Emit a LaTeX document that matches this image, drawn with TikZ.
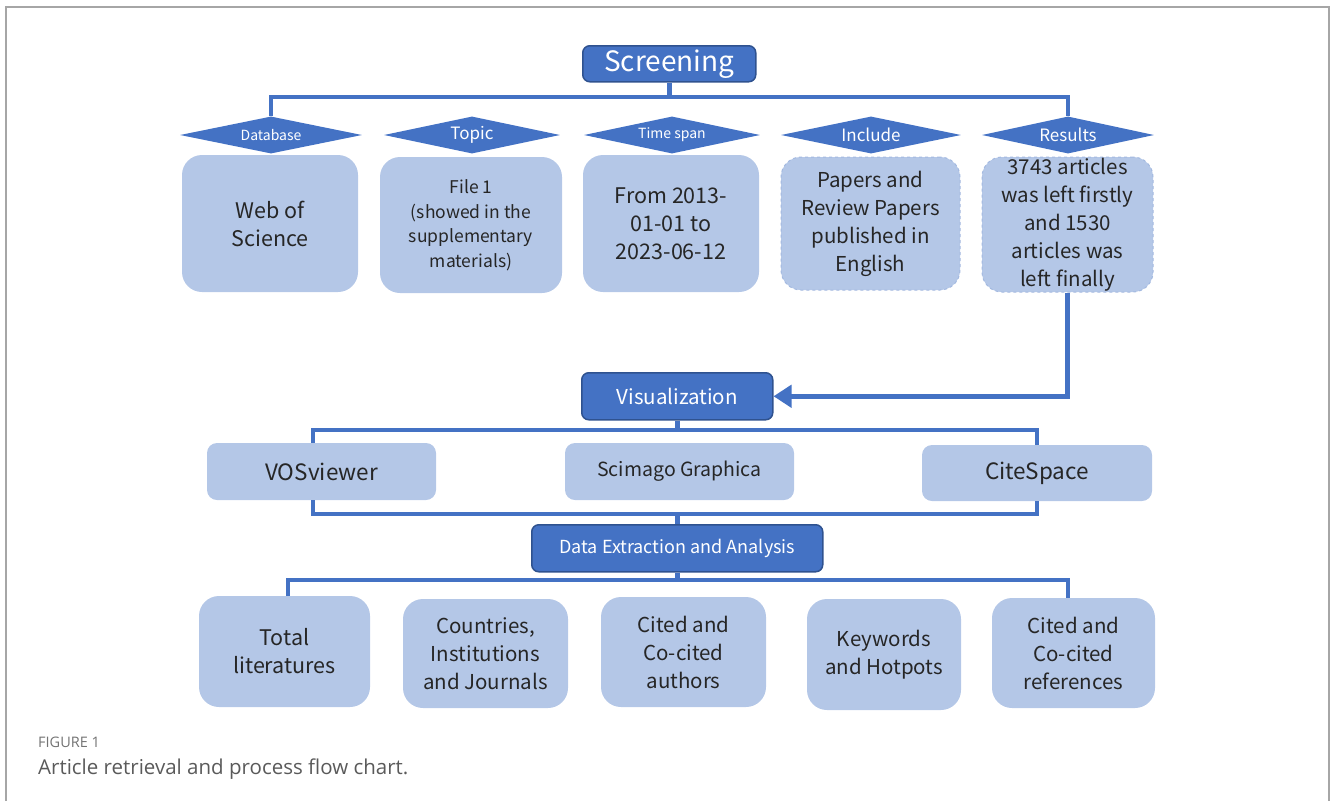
\documentclass[tikz,border=0pt]{standalone}
\usepackage{fontspec}
\setmainfont{Noto Sans CJK SC}
\newfontfamily\capfont{Open Sans}
\usetikzlibrary{shapes.geometric,arrows.meta}
\definecolor{mainblue}{HTML}{4472C4}
\definecolor{darkborder}{HTML}{2F528F}
\definecolor{lightfill}{HTML}{B4C7E7}
\definecolor{lightedge}{HTML}{A3B9E0}
\definecolor{framegray}{HTML}{A6A6A6}
\definecolor{capgray}{HTML}{5A5A5A}
\newcommand{\fs}[2]{\fontsize{#1}{#2}\selectfont}
\tikzset{
  darkbox/.style={draw=darkborder, line width=1.5pt, fill=mainblue, text=white, rounded corners=7pt, inner sep=0pt, anchor=north west},
  lightbox/.style={fill=lightfill, text=black!85, rounded corners=20pt, inner sep=0pt, align=center},
  smallbox/.style={fill=lightfill, text=black!85, rounded corners=10pt, inner sep=0pt, align=center},
  dashbox/.style={lightbox, draw=lightedge, dashed, line width=1pt},
  diam/.style={diamond, aspect=5, fill=mainblue, text=white, inner sep=0pt, minimum width=#1, minimum height=37pt},
  conn/.style={draw=mainblue, line width=4.5pt, line join=miter},
}
\begin{document}
\begin{tikzpicture}[x=1pt,y=-1pt]
\useasboundingbox (0,0) rectangle (1330,801);
% frame
\draw[framegray, line width=1.6pt] (6,801) -- (6,7) -- (1329,7) -- (1329,801);

% Screening
\node[darkbox, minimum width=173pt, minimum height=36pt, font=\fs{28}{32}] (scr) at (582,45) {Screening};

% diamonds
\node[diam=182pt, font=\fs{14}{16}] (db) at (271,135) {Database};
\node[diam=176pt, font=\fs{17}{20}] (tp) at (472,135) {Topic};
\node[diam=176pt, font=\fs{14}{16}] (ts) at (672,135) {Time span};
\node[diam=180pt, font=\fs{17}{20}] (inc) at (871,135) {Include};
\node[diam=172pt, font=\fs{17}{20}] (res) at (1068,135) {Results};

% top boxes
\node[lightbox, minimum width=176pt, minimum height=137pt, font=\fs{21.5}{28}] (wos) at (270,223.5) {Web of\\Science};
\node[lightbox, minimum width=182pt, minimum height=136pt, font=\fs{17.5}{24.5}] (file) at (471,225) {File 1\\(showed in the\\supplementary\\materials)};
\node[lightbox, minimum width=176pt, minimum height=137pt, font=\fs{21.5}{28}] (from) at (671,223.5) {From 2013-\\01-01 to\\2023-06-12};
\node[dashbox, minimum width=179pt, minimum height=133pt, font=\fs{20.5}{28}] (pap) at (870.5,223.5) {Papers and\\Review Papers\\published in\\English};
\node[dashbox, minimum width=171pt, minimum height=135pt, font=\fs{20.5}{28}] (art) at (1067.5,224.5) {3743 articles\\was left firstly\\and 1530\\articles was\\left finally};

% Visualization
\node[darkbox, minimum width=191pt, minimum height=47pt, font=\fs{20.5}{24}] (vis) at (581,372) {Visualization};

\node[smallbox, minimum width=229pt, minimum height=57pt, font=\fs{22.5}{26}] (vos) at (321.5,471.5) {VOSviewer};
\node[smallbox, minimum width=229pt, minimum height=57pt, font=\fs{19.5}{24}] (sci) at (679.5,471.5) {Scimago Graphica};
\node[smallbox, minimum width=230pt, minimum height=56pt, font=\fs{22.5}{26}] (cite) at (1037,473) {CiteSpace};

% Data extraction
\node[darkbox, minimum width=291pt, minimum height=47pt, font=\fs{18}{22}] (dea) at (531,524) {Data Extraction and Analysis};

% bottom boxes
\node[lightbox, minimum width=171pt, minimum height=111pt, font=\fs{21.5}{28}] (tot) at (284.5,651.5) {Total\\literatures};
\node[lightbox, minimum width=165pt, minimum height=109pt, font=\fs{20.5}{28}] (cou) at (485.5,653.5) {Countries,\\Institutions\\and Journals};
\node[lightbox, minimum width=165pt, minimum height=110pt, font=\fs{20.5}{28}] (aut) at (683.5,652) {Cited and\\Co-cited\\authors};
\node[lightbox, minimum width=154pt, minimum height=111pt, font=\fs{20.5}{28}] (key) at (884,654.5) {Keywords\\and Hotpots};
\node[lightbox, minimum width=163pt, minimum height=110pt, font=\fs{20.5}{28}] (ref) at (1073.5,653) {Cited and\\Co-cited\\references};

% connectors
\coordinate (b1) at (0,97);
\coordinate (b2) at (0,430);
\coordinate (b3) at (0,514);
\coordinate (b4) at (0,580);
\draw[conn] (db.north) -- (db.north |- b1) -- (res.north |- b1) -- (res.north);
\draw[conn] (scr.south) -- (scr.south |- b1);
\draw[conn, -{Triangle[length=18pt,width=22pt]}] (art.south) |- (vis.east);

\draw[conn] (vos.north -| 313,0) -- (313,430) -- (1037,430) -- (cite.north);
\draw[conn] (vis.south) -- (vis.south |- b2);
\draw[conn] (vos.south -| 313,0) -- (313,514) -- (1037,514) -- (cite.south);
\draw[conn] (dea.north) -- (dea.north |- b3);

\draw[conn] (tot.north -| 288,0) -- (288,580) -- (1068,580) -- (ref.north -| 1068,0);
\draw[conn] (dea.south) -- (dea.south |- b4);

% caption
\node[anchor=west, text=capgray!85, inner sep=0pt, font=\capfont\fs{14.5}{17}] (figlab) at (38,742) {FIGURE 1};
\node[anchor=west, text=capgray, inner sep=0pt, font=\capfont\fs{20.5}{24}] (cap) at (38,769) {Article retrieval and process flow chart.};
\end{tikzpicture}
\end{document}
